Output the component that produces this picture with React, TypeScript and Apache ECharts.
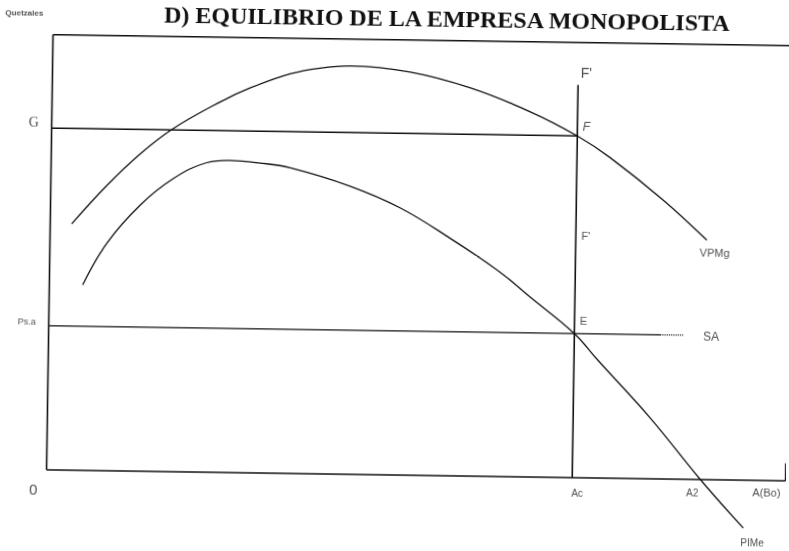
import React, { useEffect, useRef } from "react";
import * as echarts from "echarts";

const TITLE = "D) EQUILIBRIO DE LA EMPRESA MONOPOLISTA";
const UNIT_LABEL = "Quetzales";

// Curva VPMg (valor del producto marginal)
const vpmgX = [2.9, 7.6, 12.0, 16.3, 22.7, 26.7, 32.1, 36.1, 40.2, 48.3, 56.4, 64.6, 71.0, 75.5, 82.7, 88.7];
const vpmgY = [56.6, 65.6, 72.9, 78.7, 85.1, 88.4, 91.8, 93.2, 93.8, 92.6, 89.2, 83.9, 78.5, 73.6, 64.1, 55.0];

// Curva PIMe
const pimeX = [4.5, 7.7, 12.1, 16.5, 21.0, 24.1, 28.2, 32.3, 40.4, 47.2, 54.0, 60.8, 64.9, 71.0, 74.2, 81.4, 88.3, 94.2];
const pimeY = [42.6, 52.3, 61.1, 67.3, 71.1, 71.7, 71.2, 70.2, 66.2, 61.4, 54.6, 47.0, 41.4, 33.1, 27.1, 14.0, 0.0, -11.0];

// Niveles sobre el eje de precios
const priceTicks = ["G", "Ps.a"];
const priceValues = [78.5, 33.1];

// Cantidades sobre el eje horizontal
const qtyTicks = ["Ac", "A2", "A(Bo)"];
const qtyValues = [71, 88.3, 99.8];

const FRAME_TOP = 100;
const FRAME_RIGHT_TICK = 4;
const VERTICAL_TOP = 90.2;
const SA_SOLID_END = 82.6;
const SA_END = 85.7;

const INK = "#111";
const SANS = "Liberation Sans, Arial, sans-serif";

function seg(data: number[][], width = 1.4, type: string = "solid") {
  return {
    type: "line",
    data,
    symbol: "none",
    showSymbol: false,
    silent: true,
    lineStyle: { color: INK, width, type },
  };
}

function lab(value: number[], text: string, offset: number[], extra: any = {}) {
  return {
    value,
    label: {
      show: true,
      position: "inside",
      formatter: () => text,
      offset,
      color: "#222",
      fontFamily: SANS,
      fontSize: 11,
      ...extra,
    },
  };
}

export default function App() {
  const ref = useRef<HTMLDivElement>(null);

  useEffect(() => {
    if (!ref.current) return;
    const chart = echarts.init(ref.current, undefined, { renderer: "svg" });

    const [G, PSA] = priceValues;
    const [AC, A2, ABO] = qtyValues;
    const vpmg = vpmgX.map((x, i) => [x, vpmgY[i]]);
    const pime = pimeX.map((x, i) => [x, pimeY[i]]);

    const labels = [
      lab([0, FRAME_TOP], UNIT_LABEL, [-29, -21], { fontSize: 8, fontWeight: "bold" }),
      lab([0, G], priceTicks[0], [-18, -6], { fontFamily: "Liberation Serif, serif", fontSize: 14 }),
      lab([0, PSA], priceTicks[1], [-22, -4], { fontSize: 9 }),
      lab([0, 0], "0", [-13, 20], { fontSize: 15 }),
      lab([AC, VERTICAL_TOP], "F'", [8, -12], { fontSize: 14 }),
      lab([AC, G], "F", [9, -9], { fontSize: 12, fontStyle: "italic" }),
      lab([AC, (G + PSA) / 2], "F'", [10, 1], { fontSize: 11 }),
      lab([AC, PSA], "E", [9, -13], { fontSize: 11 }),
      lab(vpmg[vpmg.length - 1], "VPMg", [8, 12], { fontSize: 11 }),
      lab([SA_END, PSA], "SA", [28, 1], { fontSize: 12 }),
      lab([AC, 0], qtyTicks[0], [5, 16], { fontSize: 10 }),
      lab([A2, 0], qtyTicks[1], [-8, 14], { fontSize: 10 }),
      lab([ABO, 0], qtyTicks[2], [-19, 12], { fontSize: 11 }),
      lab(pime[pime.length - 1], "PIMe", [9, 15], { fontSize: 10 }),
    ];

    chart.setOption({
      animation: false,
      title: {
        text: TITLE,
        left: 443,
        top: 6,
        padding: 0,
        textAlign: "center",
        textStyle: {
          fontFamily: "Liberation Serif, Times New Roman, serif",
          fontWeight: "bold",
          fontSize: 24,
          color: INK,
        },
      },
      grid: {
        left: 49.5,
        top: 39.7,
        width: 739,
        height: 509.3,
        outerBoundsMode: "none",
        containLabel: false,
      },
      xAxis: { type: "value", min: 0, max: 99.8, show: false },
      yAxis: { type: "value", min: -17, max: 100, show: false },
      series: [
        // marco
        seg([[0, 0], [0, FRAME_TOP]], 1.6),
        seg([[0, FRAME_TOP], [ABO, FRAME_TOP]], 1.6),
        seg([[0, 0], [ABO, 0]], 1.6),
        seg([[ABO, 0], [ABO, FRAME_RIGHT_TICK]], 1.4),
        // niveles G y SA
        seg([[0, G], [AC, G]], 1.5),
        seg([[0, PSA], [SA_SOLID_END, PSA]], 1.3),
        seg([[SA_SOLID_END, PSA], [SA_END, PSA]], 1.1, "dotted"),
        // vertical en Ac
        seg([[AC, 0], [AC, VERTICAL_TOP]], 1.6),
        // curvas
        { ...seg(vpmg, 1.3), smooth: 0.4 },
        { ...seg(pime, 1.3), smooth: 0.4 },
        {
          type: "scatter",
          symbolSize: 1,
          silent: true,
          clip: false,
          itemStyle: { color: "transparent" },
          data: labels,
        },
      ],
    });

    return () => chart.dispose();
  }, []);

  return (
    <div
      ref={ref}
      style={{
        position: "fixed",
        left: 0,
        top: 0,
        width: 789,
        height: 551,
        transform: "rotate(0.85deg)",
        background: "transparent",
      }}
    />
  );
}
